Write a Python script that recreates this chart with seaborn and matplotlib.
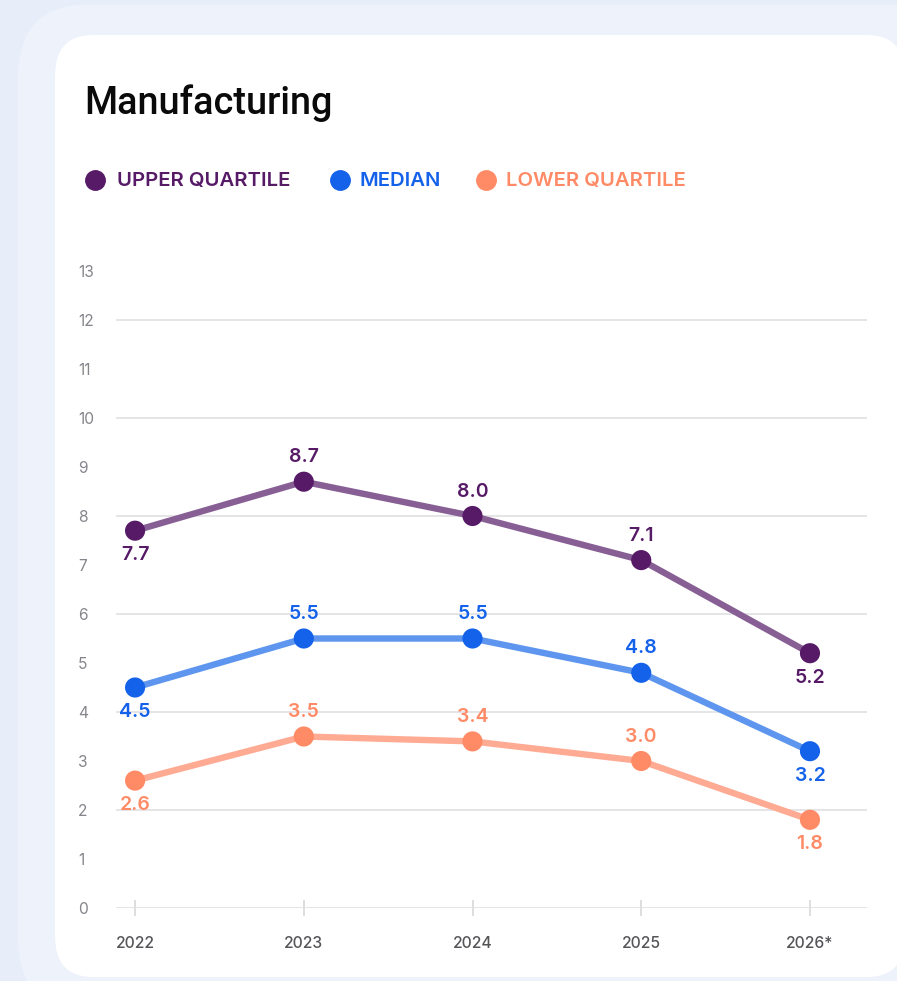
import matplotlib
matplotlib.use("Agg")
import matplotlib.pyplot as plt
from matplotlib.patches import FancyBboxPatch
from matplotlib.lines import Line2D
import seaborn as sns
import pandas as pd

# ---- data ----
years = ["2022", "2023", "2024", "2025", "2026*"]
upper_quartile = [7.7, 8.7, 8.0, 7.1, 5.2]
median = [4.5, 5.5, 5.5, 4.8, 3.2]
lower_quartile = [2.6, 3.5, 3.4, 3.0, 1.8]
series_names = ["UPPER QUARTILE", "MEDIAN", "LOWER QUARTILE"]
# label placement per point: +1 above, -1 below
label_side = [-1, 1, 1, 1, -1]

dot_colors = {"UPPER QUARTILE": "#561A66", "MEDIAN": "#1562EA", "LOWER QUARTILE": "#FF8A66"}
line_colors = {"UPPER QUARTILE": "#875F94", "MEDIAN": "#5E95EF", "LOWER QUARTILE": "#FFAA93"}

rows = []
for name, vals in zip(series_names, [upper_quartile, median, lower_quartile]):
    for i, (yr, v) in enumerate(zip(years, vals)):
        rows.append({"series": name, "year": yr, "pos": i, "value": v})
df = pd.DataFrame(rows)

W, H = 897, 981
sns.set_theme(style="white")
plt.rcParams["font.family"] = ["Inter", "DejaVu Sans"]

fig = plt.figure(figsize=(W / 100, H / 100), dpi=100)
fig.patch.set_facecolor("#E7EDF9")


def fx(px):
    return px / W


def fy(py):
    return 1 - py / H


# soft outer panel and white card
fig.patches.append(FancyBboxPatch((fx(18), fy(1010)), fx(960), (1010 - 5) / H,
                                  boxstyle="round,pad=0,rounding_size=0.075",
                                  transform=fig.transFigure, facecolor="#EEF2FB",
                                  edgecolor="none", zorder=0))
fig.patches.append(FancyBboxPatch((fx(55), fy(977)), fx(850), (977 - 35) / H,
                                  boxstyle="round,pad=0,rounding_size=0.042",
                                  transform=fig.transFigure, facecolor="white",
                                  edgecolor="none", zorder=1))

ax = fig.add_axes([fx(116), fy(908), fx(867 - 116), (908 - 271) / H])
ax.set_facecolor("none")
ax.set_zorder(2)

# gridlines at even values
for g in range(0, 13, 2):
    ax.axhline(g, color="#E3E3E6", lw=1.3, zorder=1)

sns.lineplot(data=df, x="pos", y="value", hue="series", palette=line_colors,
             hue_order=series_names, lw=4.6, legend=False, ax=ax, zorder=3,
             sort=False)
sns.scatterplot(data=df, x="pos", y="value", hue="series", palette=dot_colors,
                hue_order=series_names, s=210, edgecolor="none", legend=False,
                ax=ax, zorder=4)

for name, vals in zip(series_names, [upper_quartile, median, lower_quartile]):
    for i, v in enumerate(vals):
        side = label_side[i]
        ax.annotate(f"{v:.1f}", (i, v), xytext=(0, 17.5 * side), textcoords="offset points",
                    ha="center", va="center", fontsize=14, fontweight="semibold",
                    color=dot_colors[name], zorder=5)

ax.set_xlim(-0.113, 4.338)
ax.set_ylim(0, 13)
ax.set_xticks(range(len(years)))
ax.set_xticklabels(years)
ax.set_yticks(range(0, 14))
ax.set_yticklabels([str(v) for v in range(0, 14)])
ax.set_xlabel("")
ax.set_ylabel("")
for s in ax.spines.values():
    s.set_visible(False)

ax.tick_params(axis="x", bottom=True, direction="inout", length=12, width=1.4,
               color="#DEDEE1", pad=14, labelsize=11.3, labelcolor="#555559")
for lab in ax.get_xticklabels():
    lab.set_fontweight("medium")
ax.tick_params(axis="y", left=False, length=0, pad=27.5, labelsize=11.2,
               labelcolor="#85858B")
for lab in ax.get_yticklabels():
    lab.set_horizontalalignment("left")

# title
fig.text(fx(84), fy(103), "Manufacturing", fontsize=27.3, fontweight="medium",
         family=["Roboto", "DejaVu Sans"], color="#0A0A0A", va="center", ha="left",
         zorder=5)

# legend
legend_items = [(95, 117, "UPPER QUARTILE"), (340, 359, "MEDIAN"), (486, 506, "LOWER QUARTILE")]
for dot_x, text_x, name in legend_items:
    fig.add_artist(Line2D([fx(dot_x)], [fy(180)], marker="o", markersize=14,
                          color=dot_colors[name], lw=0, transform=fig.transFigure, zorder=5))
    fig.text(fx(text_x), fy(181), name, fontsize=14.6, fontweight="semibold",
             color=dot_colors[name], va="center", ha="left", zorder=5)

fig.savefig("out.png", dpi=100, facecolor=fig.get_facecolor())
